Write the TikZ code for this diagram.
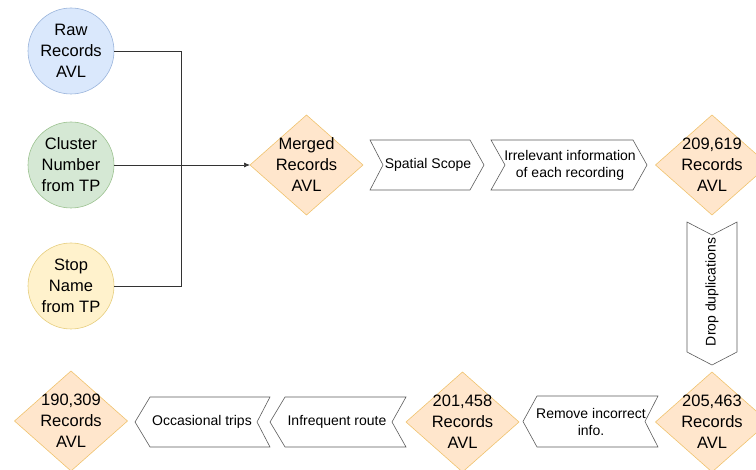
\documentclass[tikz,border=0pt]{standalone}
\usepackage{fontspec}
\setmainfont{Liberation Sans}
\usetikzlibrary{arrows.meta}
\definecolor{bluefill}{HTML}{DAE8FC}\definecolor{bluedraw}{HTML}{9AB4DB}
\definecolor{greenfill}{HTML}{D5E8D4}\definecolor{greendraw}{HTML}{9CC290}
\definecolor{yellowfill}{HTML}{FFF2CC}\definecolor{yellowdraw}{HTML}{E6CE7E}
\definecolor{orangefill}{HTML}{FFE6CC}\definecolor{orangedraw}{HTML}{F0C36E}
\definecolor{linegray}{HTML}{333333}
\tikzset{
  src/.style={circle, minimum size=86pt, inner sep=0pt, line width=0.6pt, align=center, font=\fontsize{16.5}{21}\selectfont},
  diapath/.style={fill=orangefill, draw=orangedraw, line width=0.6pt},
  diatxt/.style={align=center, inner sep=0pt, font=\fontsize{16.5}{21}\selectfont},
  txt/.style={align=center, font=\fontsize{14}{17}\selectfont},
  chev/.style={draw=linegray!80, line width=0.6pt, fill=white},
  conn/.style={draw=linegray, line width=0.7pt}
}
\newcommand{\mydia}[3]{%
  \draw[diapath] (#1-56.5,#2) -- (#1,#2-50) -- (#1+56.5,#2) -- (#1,#2+50) -- cycle;
  \node[diatxt] (#3) at (#1,#2) {\strut\\\strut\\\strut};}
\begin{document}
\begin{tikzpicture}[x=1pt,y=-1pt]
\useasboundingbox (0,0) rectangle (756,470);
% sources
\node[src, fill=bluefill, draw=bluedraw] (raw) at (71,51) {Raw\\Records\\AVL};
\node[src, fill=greenfill, draw=greendraw] (clu) at (71,165) {Cluster\\Number\\from TP};
\node[src, fill=yellowfill, draw=yellowdraw] (stop) at (71,286) {Stop\\Name\\from TP};
% diamonds
\draw[diapath] (250,165) -- (306.5,115) -- (363,165) -- (306.5,215) -- cycle;
\node[diatxt] (merged) at (306.5,165) {Merged\\Records\\AVL};
\coordinate (mergedW) at (250,165);
\draw[diapath] (655.5,165) -- (712,115) -- (768.5,165) -- (712,215) -- cycle;
\node[diatxt] (d209) at (712,165) {209,619\\Records\\AVL};
\draw[diapath] (655.5,422) -- (712,372) -- (768.5,422) -- (712,472) -- cycle;
\node[diatxt] (d205) at (712,422) {205,463\\Records\\AVL};
\draw[diapath] (406,422) -- (462.5,372) -- (519,422) -- (462.5,472) -- cycle;
\node[diatxt] (d201) at (462.5,422) {201,458\\Records\\AVL};
\draw[diapath] (14.5,421) -- (71,371) -- (127.5,421) -- (71,471) -- cycle;
\node[diatxt] (d190) at (71,421) {190,309\\Records\\AVL};
% connectors
\draw[conn] (raw.east) -- (181,51) |- (stop.east);
\draw[conn, -{Latex[length=6pt,width=5pt]}] (clu.east) -- (mergedW);
% chevrons right-pointing
\draw[chev] (370,140) -- (470,140) -- (484,165) -- (470,190) -- (370,190) -- (383,165) -- cycle;
\node[txt] (spatial) at (428,165) {Spatial Scope};
\draw[chev] (491,140) -- (633,140) -- (647,165) -- (633,190) -- (491,190) -- (505,165) -- cycle;
\node[txt] (irr) at (570,165) {Irrelevant information\\of each recording};
% chevron down
\draw[chev] (687,222) -- (712,235) -- (737,222) -- (737,352) -- (712,365) -- (687,352) -- cycle;
\node[txt, rotate=90] (drop) at (712,292) {Drop duplications};
% chevrons left-pointing
\draw[chev] (537,396) -- (658,396) -- (645,421.5) -- (658,447) -- (537,447) -- (523,421.5) -- cycle;
\node[txt] (rem) at (591,421.5) {Remove incorrect\\info.};
\draw[chev] (285,397) -- (406,397) -- (392,422) -- (406,447) -- (285,447) -- (270,422) -- cycle;
\node[txt] (infr) at (337,422) {Infrequent route};
\draw[chev] (150,397) -- (270,397) -- (257,422) -- (270,447) -- (150,447) -- (135,422) -- cycle;
\node[txt] (occ) at (202,422) {Occasional trips};
\end{tikzpicture}
\end{document}
